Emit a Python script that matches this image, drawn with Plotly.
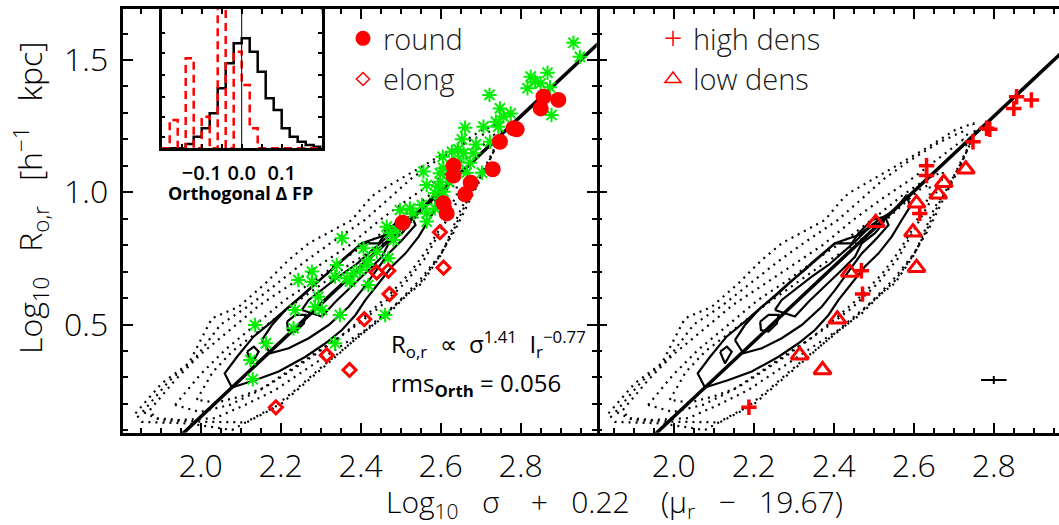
import plotly.graph_objects as go

FONT = "Open Sans"
RED = "#ff0000"
GREEN = "#00ee00"

# ---------------- data ----------------
# x = Log10 sigma + 0.22 (mu_r - 19.67), y = Log10 R_o,r
ROUND_X = [2.857, 2.894, 2.850, 2.782, 2.790, 2.748, 2.632, 2.632, 2.615, 2.730, 2.675, 2.661, 2.607, 2.505]
ROUND_Y = [1.361, 1.349, 1.317, 1.242, 1.238, 1.191, 1.100, 1.063, 0.920, 1.087, 1.036, 0.992, 0.958, 0.885]
ROUND_DENS = ["high", "high", "high", "high", "high", "high", "high", "high", "high",
              "low", "low", "low", "low", "low"]

ELONG_X = [2.598, 2.607, 2.440, 2.469, 2.472, 2.409, 2.315, 2.372, 2.188]
ELONG_Y = [0.849, 0.715, 0.697, 0.703, 0.615, 0.520, 0.384, 0.328, 0.187]
ELONG_DENS = ["low", "low", "low", "high", "high", "low", "low", "low", "high"]

GREEN_X = [2.932, 2.948, 2.825, 2.867, 2.817, 2.836, 2.850, 2.873, 2.722, 2.877, 2.748, 2.757, 2.775,
           2.738, 2.744, 2.661, 2.707, 2.653, 2.688, 2.723, 2.644, 2.628, 2.657, 2.682, 2.605, 2.644,
           2.673, 2.607, 2.598, 2.665, 2.703, 2.557, 2.619, 2.598, 2.565, 2.594, 2.607, 2.586, 2.598,
           2.553, 2.523, 2.498, 2.532, 2.565, 2.586, 2.565, 2.465, 2.490, 2.473, 2.482, 2.353, 2.407,
           2.440, 2.469, 2.419, 2.415, 2.398, 2.382, 2.340, 2.278, 2.244, 2.278, 2.336, 2.365, 2.373,
           2.419, 2.294, 2.286, 2.303, 2.236, 2.348, 2.461, 2.232, 2.136, 2.163, 2.336, 2.124, 2.130]
GREEN_Y = [1.565, 1.512, 1.437, 1.452, 1.393, 1.418, 1.412, 1.397, 1.368, 1.292, 1.317, 1.286, 1.298,
           1.267, 1.248, 1.244, 1.248, 1.200, 1.181, 1.191, 1.162, 1.153, 1.147, 1.147, 1.134, 1.116,
           1.112, 1.091, 1.072, 1.074, 1.074, 1.078, 1.040, 1.040, 1.027, 1.021, 1.002, 0.996, 0.977,
           0.952, 0.939, 0.933, 0.920, 0.920, 0.939, 0.889, 0.870, 0.857, 0.845, 0.819, 0.826, 0.788,
           0.775, 0.750, 0.744, 0.725, 0.706, 0.694, 0.725, 0.700, 0.668, 0.662, 0.681, 0.675, 0.662,
           0.649, 0.605, 0.567, 0.555, 0.555, 0.536, 0.536, 0.486, 0.498, 0.429, 0.429, 0.366, 0.293]

# fitted plane projection: y = slope * x + intercept
FIT_SLOPE = 1.42
FIT_INTERCEPT = -2.689
FIT_X = [1.90, 3.05]

# solid density contours (closed loops)
SOLID_OUTER_X = [2.078, 2.060, 2.091, 2.132, 2.178, 2.220, 2.257, 2.303, 2.353, 2.403, 2.462, 2.512, 2.553,
                 2.582, 2.591, 2.570, 2.545, 2.512, 2.478, 2.445, 2.412, 2.387, 2.353, 2.312, 2.262, 2.195, 2.137]
SOLID_OUTER_Y = [0.262, 0.315, 0.378, 0.454, 0.511, 0.567, 0.612, 0.675, 0.744, 0.807, 0.838, 0.895, 0.933,
                 0.990, 0.946, 0.895, 0.832, 0.769, 0.719, 0.656, 0.593, 0.536, 0.479, 0.429, 0.378, 0.322, 0.290]
SOLID_MID_X = [2.153, 2.174, 2.220, 2.270, 2.320, 2.370, 2.403, 2.437, 2.470, 2.503, 2.537, 2.528, 2.495,
               2.462, 2.445, 2.403, 2.370, 2.328, 2.287, 2.253, 2.212, 2.178]
SOLID_MID_Y = [0.441, 0.391, 0.410, 0.448, 0.498, 0.567, 0.630, 0.700, 0.769, 0.819, 0.876, 0.908, 0.895,
               0.845, 0.807, 0.807, 0.763, 0.706, 0.656, 0.611, 0.555, 0.498]
SOLID_INNER_X = [2.253, 2.303, 2.337, 2.387, 2.420, 2.453, 2.470, 2.503, 2.520, 2.503, 2.478, 2.453, 2.420,
                 2.387, 2.345, 2.303, 2.270]
SOLID_INNER_Y = [0.555, 0.530, 0.586, 0.656, 0.706, 0.756, 0.807, 0.845, 0.876, 0.882, 0.851, 0.813, 0.769,
                 0.725, 0.681, 0.630, 0.593]
SOLID_ISLAND_A_X = [2.116, 2.133, 2.145, 2.128]
SOLID_ISLAND_A_Y = [0.397, 0.416, 0.397, 0.353]
SOLID_ISLAND_B_X = [2.216, 2.237, 2.262, 2.258, 2.237, 2.218]
SOLID_ISLAND_B_Y = [0.511, 0.536, 0.536, 0.504, 0.473, 0.479]

# dotted (low level) density contours, outermost first
DOT_L1_X = [1.837, 1.903, 1.970, 2.028, 2.095, 2.162, 2.220, 2.270, 2.378, 2.420, 2.437, 2.495, 2.553,
            2.637, 2.703, 2.749, 2.753, 2.728, 2.711, 2.687, 2.653, 2.628, 2.603, 2.553, 2.520, 2.470,
            2.403, 2.337, 2.270, 2.203, 2.153, 2.078, 1.970, 1.853]
DOT_L1_Y = [0.164, 0.278, 0.353, 0.523, 0.567, 0.656, 0.744, 0.807, 0.895, 0.971, 0.996, 1.046, 1.097,
            1.172, 1.235, 1.261, 1.223, 1.147, 1.097, 1.021, 0.945, 0.857, 0.769, 0.656, 0.618, 0.542,
            0.467, 0.378, 0.290, 0.202, 0.164, 0.101, 0.126, 0.132]
DOT_L2_X = [1.855, 1.920, 1.985, 2.050, 2.120, 2.190, 2.258, 2.322, 2.410, 2.470, 2.525, 2.590, 2.665,
            2.726, 2.745, 2.720, 2.692, 2.663, 2.632, 2.601, 2.551, 2.503, 2.441, 2.370, 2.303, 2.236,
            2.178, 2.115, 2.010, 1.900]
DOT_L2_Y = [0.170, 0.285, 0.370, 0.500, 0.570, 0.652, 0.735, 0.805, 0.895, 0.975, 1.050, 1.120, 1.190,
            1.232, 1.195, 1.115, 1.040, 0.958, 0.857, 0.766, 0.662, 0.596, 0.510, 0.423, 0.340, 0.252,
            0.180, 0.130, 0.132, 0.138]
DOT_L3_X = [1.873, 1.936, 1.998, 2.073, 2.148, 2.223, 2.298, 2.373, 2.448, 2.523, 2.598, 2.673, 2.723,
            2.736, 2.711, 2.673, 2.636, 2.598, 2.548, 2.486, 2.411, 2.336, 2.261, 2.186, 2.111, 2.036,
            1.948, 1.886]
DOT_L3_Y = [0.177, 0.290, 0.385, 0.479, 0.574, 0.649, 0.725, 0.801, 0.895, 0.978, 1.054, 1.141, 1.198,
            1.167, 1.084, 0.971, 0.857, 0.763, 0.668, 0.574, 0.479, 0.404, 0.328, 0.252, 0.196, 0.146,
            0.139, 0.146]
DOT_L4_X = [1.936, 1.998, 2.061, 2.136, 2.211, 2.286, 2.361, 2.436, 2.511, 2.573, 2.636, 2.673, 2.668,
            2.636, 2.598, 2.561, 2.511, 2.448, 2.373, 2.298, 2.223, 2.148, 2.073, 1.998]
DOT_L4_Y = [0.196, 0.309, 0.404, 0.498, 0.593, 0.668, 0.751, 0.827, 0.914, 0.990, 1.054, 1.077, 1.027,
            0.952, 0.850, 0.751, 0.657, 0.566, 0.479, 0.404, 0.328, 0.252, 0.196, 0.169]
DOT_L5_X = [1.990, 2.030, 2.080, 2.150, 2.230, 2.300, 2.375, 2.450, 2.520, 2.570, 2.615, 2.640, 2.640,
            2.620, 2.593, 2.560, 2.520, 2.470, 2.410, 2.345, 2.280, 2.220, 2.160, 2.100, 2.040]
DOT_L5_Y = [0.215, 0.320, 0.400, 0.480, 0.575, 0.650, 0.730, 0.800, 0.880, 0.950, 1.010, 1.030, 0.990,
            0.930, 0.850, 0.770, 0.690, 0.610, 0.530, 0.450, 0.380, 0.320, 0.262, 0.228, 0.205]

# typical error bar (right panel)
ERR_X = [2.80]
ERR_Y = [0.290]
ERR_DX = 0.032
ERR_DY = 0.015

# inset: histograms of orthogonal offsets from the fundamental plane
HIST_EDGES = [-0.20, -0.18, -0.16, -0.14, -0.12, -0.10, -0.08, -0.06, -0.04, -0.02, 0.00,
              0.02, 0.04, 0.06, 0.08, 0.10, 0.12, 0.14, 0.16, 0.18, 0.20]
HIST_ALL = [0.0, 0.0, 0.0, 1.3, 3.5, 6.0, 10.5, 18.0, 25.5, 31.5,
            33.0, 29.0, 23.0, 15.0, 11.5, 6.0, 3.5, 2.0, 1.0, 0.5]
HIST_ELONG = [0.0, 8.5, 0.0, 27.0, 0.0, 9.5, 0.0, 50.0, 0.0, 29.0,
              19.0, 6.0, 0.0, 0.0, 0.0, 0.0, 0.0, 0.0, 0.0, 0.0]
HIST_YMAX = 41.7
HIST_YTICKS = [3.5, 9.5, 15.5, 22.0, 28.5, 34.5]

fig = go.Figure()


def closed(a):
    return list(a) + [a[0]]


SOLID = [(SOLID_OUTER_X, SOLID_OUTER_Y), (SOLID_MID_X, SOLID_MID_Y), (SOLID_INNER_X, SOLID_INNER_Y),
         (SOLID_ISLAND_A_X, SOLID_ISLAND_A_Y), (SOLID_ISLAND_B_X, SOLID_ISLAND_B_Y)]
DOTTED = [(DOT_L1_X, DOT_L1_Y), (DOT_L2_X, DOT_L2_Y), (DOT_L3_X, DOT_L3_Y), (DOT_L4_X, DOT_L4_Y),
          (DOT_L5_X, DOT_L5_Y)]

for xa, ya in [("x", "y"), ("x2", "y2")]:
    for cx, cy in DOTTED:
        fig.add_trace(go.Scatter(x=closed(cx), y=closed(cy), mode="lines", xaxis=xa, yaxis=ya,
                                 line=dict(color="black", width=2.2, dash="2px,5px"),
                                 showlegend=False, hoverinfo="skip"))
    for cx, cy in SOLID:
        fig.add_trace(go.Scatter(x=closed(cx), y=closed(cy), mode="lines", xaxis=xa, yaxis=ya,
                                 line=dict(color="black", width=2.2),
                                 showlegend=False, hoverinfo="skip"))
    fig.add_trace(go.Scatter(x=FIT_X, y=[FIT_SLOPE * v + FIT_INTERCEPT for v in FIT_X], mode="lines",
                             xaxis=xa, yaxis=ya, line=dict(color="black", width=3.5),
                             showlegend=False, hoverinfo="skip"))

# left panel samples
fig.add_trace(go.Scatter(x=GREEN_X, y=GREEN_Y, mode="markers", xaxis="x", yaxis="y",
                         marker=dict(symbol="asterisk-open", size=12, color=GREEN,
                                     line=dict(color=GREEN, width=2)),
                         showlegend=False))
fig.add_trace(go.Scatter(x=ELONG_X, y=ELONG_Y, mode="markers", xaxis="x", yaxis="y",
                         marker=dict(symbol="diamond-open", size=10, color=RED,
                                     line=dict(color=RED, width=3)),
                         showlegend=False))
fig.add_trace(go.Scatter(x=ROUND_X, y=ROUND_Y, mode="markers", xaxis="x", yaxis="y",
                         marker=dict(symbol="circle", size=16, color=RED, line=dict(width=0)),
                         showlegend=False))

# right panel samples by environment
ALL_X = ROUND_X + ELONG_X
ALL_Y = ROUND_Y + ELONG_Y
ALL_D = ROUND_DENS + ELONG_DENS
hx = [x for x, d in zip(ALL_X, ALL_D) if d == "high"]
hy = [y for y, d in zip(ALL_Y, ALL_D) if d == "high"]
lx = [x for x, d in zip(ALL_X, ALL_D) if d == "low"]
ly = [y for y, d in zip(ALL_Y, ALL_D) if d == "low"]
fig.add_trace(go.Scatter(x=lx, y=ly, mode="markers", xaxis="x2", yaxis="y2",
                         marker=dict(symbol="triangle-up-open", size=15, color=RED,
                                     line=dict(color=RED, width=3)),
                         showlegend=False))
fig.add_trace(go.Scatter(x=hx, y=hy, mode="markers", xaxis="x2", yaxis="y2",
                         marker=dict(symbol="cross-thin-open", size=11, color=RED,
                                     line=dict(color=RED, width=3.5)),
                         showlegend=False))
fig.add_trace(go.Scatter(x=ERR_X, y=ERR_Y, mode="markers", xaxis="x2", yaxis="y2",
                         marker=dict(size=1, color="black"),
                         error_x=dict(type="constant", value=ERR_DX, width=0, thickness=2, color="black"),
                         error_y=dict(type="constant", value=ERR_DY, width=0, thickness=2, color="black"),
                         showlegend=False, hoverinfo="skip"))

# legend-only entries
fig.add_trace(go.Scatter(x=[None], y=[None], mode="markers", name="round", xaxis="x", yaxis="y",
                         marker=dict(symbol="circle", size=15, color=RED), legend="legend"))
fig.add_trace(go.Scatter(x=[None], y=[None], mode="markers", name="elong", xaxis="x", yaxis="y",
                         marker=dict(symbol="diamond-open", size=10, color=RED, line=dict(color=RED, width=1.5)),
                         legend="legend"))
fig.add_trace(go.Scatter(x=[None], y=[None], mode="markers", name="high dens", xaxis="x2", yaxis="y2",
                         marker=dict(symbol="cross-thin-open", size=11, color=RED, line=dict(color=RED, width=1.5)),
                         legend="legend2"))
fig.add_trace(go.Scatter(x=[None], y=[None], mode="markers", name="low dens", xaxis="x2", yaxis="y2",
                         marker=dict(symbol="triangle-up-open", size=14, color=RED, line=dict(color=RED, width=1.5)),
                         legend="legend2"))

# inset histograms
step_x = HIST_EDGES[:-1] + [HIST_EDGES[-1]]
fig.add_trace(go.Scatter(x=step_x, y=HIST_ALL + [HIST_ALL[-1]], mode="lines", line_shape="hv",
                         xaxis="x3", yaxis="y3", line=dict(color="black", width=2.5),
                         showlegend=False, hoverinfo="skip"))
fig.add_trace(go.Scatter(x=step_x, y=HIST_ELONG + [HIST_ELONG[-1]], mode="lines", line_shape="hv",
                         xaxis="x3", yaxis="y3", line=dict(color=RED, width=2.5, dash="8px,5px"),
                         showlegend=False, hoverinfo="skip"))
fig.add_trace(go.Scatter(x=[0, 0], y=[0, HIST_YMAX], mode="lines", xaxis="x3", yaxis="y3",
                         line=dict(color="black", width=1), showlegend=False, hoverinfo="skip"))

W, H = 1059, 525
XL = [123.3 / W, 596.7 / W]
XR = [597.3 / W, 1.0]
YD = [(H - 432.7) / H, (H - 9.3) / H]

TICKFONT = dict(family=FONT, size=32, color="black", weight=300)
common = dict(showline=True, linecolor="black", linewidth=2.5, ticks="inside", tickcolor="black",
              tickwidth=2, showgrid=False, zeroline=False, tickfont=TICKFONT)
xminor = dict(dtick=0.05, ticklen=5, tickwidth=2, tickcolor="black", ticks="inside")
yminor = dict(dtick=0.1, ticklen=5, tickwidth=2, tickcolor="black", ticks="inside")

fig.update_layout(
    width=W, height=H, margin=dict(l=0, r=0, t=0, b=0),
    paper_bgcolor="white", plot_bgcolor="white",
    xaxis=dict(common, domain=XL, range=[1.8065, 2.990], dtick=0.2, tick0=0, tickformat=".1f",
               ticklen=10, minor=xminor, mirror="allticks", anchor="y", ticklabelstandoff=3),
    yaxis=dict(common, domain=YD, range=[0.0909, 1.6917], dtick=0.5, tick0=0, tickformat=".1f",
               ticklen=10, minor=yminor, mirror="allticks", anchor="x", ticklabelstandoff=6),
    xaxis2=dict(common, domain=XR, range=[1.809, 2.963], dtick=0.2, tick0=0, tickformat=".1f",
                ticklen=10, minor=xminor, mirror="allticks", anchor="y2", ticklabelstandoff=3),
    yaxis2=dict(common, domain=YD, range=[0.0909, 1.6917], dtick=0.5, tick0=0, ticklen=10,
                minor=yminor, mirror=False, anchor="x2", showticklabels=False, showline=False),
    xaxis3=dict(showline=True, linecolor="black", linewidth=2.5, ticks="inside", tickcolor="black",
                tickwidth=1.5, ticklen=5, showgrid=False, zeroline=False,
                domain=[161.7 / W, 321.7 / W], range=[-0.2, 0.2], anchor="y3", mirror="allticks",
                tickvals=[-0.1, 0.0, 0.1], ticktext=["\u22120.1", "0.0", "0.1"],
                minor=dict(tickvals=[-0.15, -0.05, 0.05, 0.15], ticklen=5, tickwidth=1.5,
                           tickcolor="black", ticks="inside"),
                tickfont=dict(family=FONT, size=20, color="black", weight=600), ticklabelstandoff=5),
    yaxis3=dict(showline=True, linecolor="black", linewidth=2.5, ticks="inside", tickcolor="black",
                tickwidth=1.5, ticklen=4, showgrid=False, zeroline=False,
                domain=[(H - 148.3) / H, YD[1]], range=[0, HIST_YMAX], anchor="x3", mirror="allticks",
                tickvals=HIST_YTICKS, showticklabels=False),
    legend=dict(x=343 / W, y=(H - 13) / H, xanchor="left", yanchor="top", bgcolor="rgba(0,0,0,0)",
                font=dict(family=FONT, size=29, color="#1a1a1a", weight=300), itemsizing="trace",
                tracegroupgap=0),
    legend2=dict(x=653 / W, y=(H - 13) / H, xanchor="left", yanchor="top", bgcolor="rgba(0,0,0,0)",
                 font=dict(family=FONT, size=29, color="#1a1a1a", weight=300), itemsizing="trace",
                 tracegroupgap=0),
    showlegend=True,
)

NB = "\u00a0"
TF = dict(family=FONT, size=30, color="black", weight=300)
ann = [
    dict(text="Log<sub>10</sub>" + NB * 3 + "R<sub>o,r</sub>" + NB * 3 + "[h<sup>\u22121</sup>" + NB * 3 + "kpc]",
         x=31 / W, y=(H - 198) / H, textangle=-90, xanchor="center", yanchor="middle", font=dict(TF, size=32)),
    dict(text="Log<sub>10</sub>" + NB * 3 + "\u03c3" + NB * 4 + "+" + NB * 3 + "0.22" + NB * 4 + "(\u03bc<sub>r</sub>"
         + NB * 3 + "\u2212" + NB * 3 + "19.67)",
         x=614 / W, y=0.0, xanchor="center", yanchor="bottom", yshift=-2, font=TF),
    dict(text="R<sub>o,r</sub>" + NB * 2 + "\u221d" + NB * 2 + "\u03c3<sup>1.41</sup>" + NB * 2 + "I<sub>r</sub><sup>\u22120.77</sup>",
         x=389 / W, y=(H - 344) / H, xanchor="left", yanchor="middle", font=dict(TF, size=24, weight=400)),
    dict(text="rms<sub><b>Orth</b></sub>" + NB + "=" + NB + "0.056",
         x=389 / W, y=(H - 384) / H, xanchor="left", yanchor="middle", font=dict(TF, size=24, weight=400)),
    dict(text="<b>Orthogonal \u0394 FP</b>", x=240 / W, y=(H - 193) / H, xanchor="center", yanchor="middle",
         font=dict(family=FONT, size=18, color="black")),
]
for a in ann:
    a.update(xref="paper", yref="paper", showarrow=False)
fig.update_layout(annotations=ann)

fig.write_html("out.html")
